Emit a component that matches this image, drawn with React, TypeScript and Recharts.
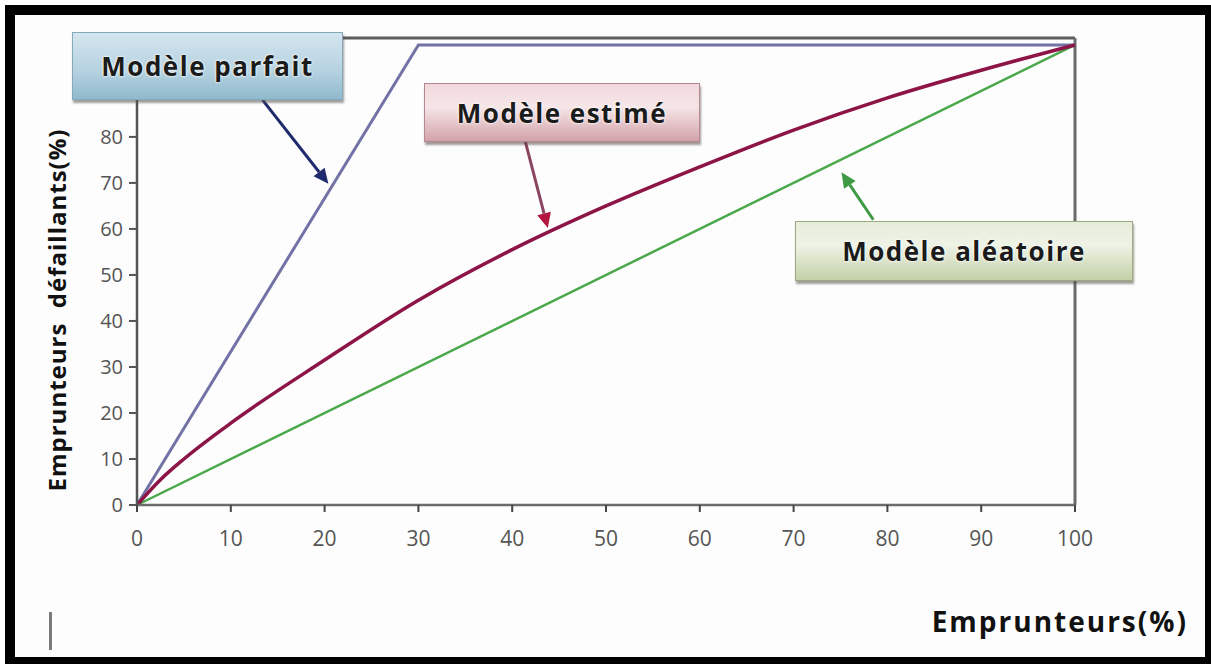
import React from 'react';
import { LineChart, Line, XAxis, YAxis, ReferenceLine } from 'recharts';

const FONT = '"Open Sans", Lato, sans-serif';

// axis ticks (90 and 100 sit under the "Modèle parfait" box in the original)
const xTicks = [0, 10, 20, 30, 40, 50, 60, 70, 80, 90, 100];
const yTicks = [0, 10, 20, 30, 40, 50, 60, 70, 80];

// Modèle parfait
const perfectX = [0, 30, 100];
const perfectY = [0, 100, 100];

// Modèle estimé
const estimatedX = [0, 2.5, 5, 10, 20, 30, 40, 50, 60, 70, 80, 90, 100];
const estimatedY = [0, 5.5, 10, 17.8, 31.5, 44.5, 55.5, 65, 73.5, 81.5, 88.5, 94.5, 100];

// Modèle aléatoire
const randomX = [0, 100];
const randomY = [0, 100];

const toPoints = (xs: number[], ys: number[]) => xs.map((x, i) => ({ x, y: ys[i] }));

const perfectData = toPoints(perfectX, perfectY);
const estimatedData = toPoints(estimatedX, estimatedY);
const randomData = toPoints(randomX, randomY);

const Arrow = (props: any) => {
    const { x1, y1, x2, y2, color, headColor } = props;
    if (x1 == null || x2 == null) return null;
    const ang = Math.atan2(y2 - y1, x2 - x1);
    const len = 15;
    const hw = 7;
    const bx = x2 - len * Math.cos(ang);
    const by = y2 - len * Math.sin(ang);
    const px = -Math.sin(ang) * hw;
    const py = Math.cos(ang) * hw;
    return (
        <g>
            <line x1={x1} y1={y1} x2={bx} y2={by} stroke={color} strokeWidth={3} />
            <polygon
                points={`${x2},${y2} ${bx + px},${by + py} ${bx - px},${by - py}`}
                fill={headColor || color}
            />
        </g>
    );
};

const boxText: React.CSSProperties = {
    position: 'absolute',
    display: 'flex',
    alignItems: 'center',
    justifyContent: 'center',
    fontFamily: FONT,
    fontWeight: 700,
    fontSize: 26,
    letterSpacing: 1.5,
    color: '#1b1b1b',
    textShadow: '0 0 3px #fff, 0 0 2px #fff',
    boxSizing: 'border-box',
    zIndex: 2,
};

export default function App() {
    return (
        <div style={{ position: 'fixed', left: 0, top: 0, width: 1211, height: 664, background: '#fff', overflow: 'hidden' }}>
            {/* black frame */}
            <div
                style={{
                    position: 'absolute',
                    left: 5,
                    top: 5,
                    width: 1206,
                    height: 659,
                    boxSizing: 'border-box',
                    borderLeft: '10px solid #000',
                    borderTop: '10px solid #000',
                    borderRight: '6px solid #000',
                    borderBottom: '7px solid #000',
                    background: '#fdfdfd',
                }}
            />
            <div style={{ position: 'absolute', left: 0, top: 0, zIndex: 1 }}>
                <LineChart width={1211} height={664} margin={{ top: 38, right: 136, bottom: 119, left: 97 }}>
                    <XAxis
                        type="number"
                        dataKey="x"
                        domain={[0, 100]}
                        ticks={xTicks}
                        height={40}
                        tickSize={7}
                        tickMargin={19}
                        axisLine={{ stroke: '#6b6b6b', strokeWidth: 2.5 }}
                        tickLine={{ stroke: '#444', strokeWidth: 2 }}
                        tick={{ fill: '#555', fontSize: 21, fontFamily: FONT }}
                    />
                    <YAxis
                        type="number"
                        dataKey="y"
                        domain={[0, 101.5]}
                        ticks={yTicks}
                        width={40}
                        tickSize={8}
                        tickMargin={6}
                        axisLine={{ stroke: '#555', strokeWidth: 2.5 }}
                        tickLine={{ stroke: '#555', strokeWidth: 2 }}
                        tick={{ fill: '#555', fontSize: 20, fontFamily: FONT }}
                    />
                    <ReferenceLine y={101.5} stroke="#5e5e5e" strokeWidth={3} />
                    <ReferenceLine x={100} stroke="#6b6b6b" strokeWidth={3} />
                    <Line
                        data={randomData}
                        dataKey="y"
                        type="linear"
                        stroke="#4aa84a"
                        strokeWidth={2.5}
                        dot={false}
                        isAnimationActive={false}
                    />
                    <Line
                        data={perfectData}
                        dataKey="y"
                        type="linear"
                        stroke="#7272a6"
                        strokeWidth={3}
                        dot={false}
                        isAnimationActive={false}
                    />
                    <Line
                        data={estimatedData}
                        dataKey="y"
                        type="monotone"
                        stroke="#8c1446"
                        strokeWidth={3.5}
                        dot={false}
                        isAnimationActive={false}
                    />
                    {/* callout arrows */}
                    <ReferenceLine
                        segment={[{ x: 13.4, y: 88 }, { x: 20.4, y: 69.8 }]}
                        ifOverflow="visible"
                        shape={(p: any) => <Arrow {...p} color="#1f2a6e" />}
                    />
                    <ReferenceLine
                        segment={[{ x: 41.4, y: 79 }, { x: 43.8, y: 60.2 }]}
                        ifOverflow="visible"
                        shape={(p: any) => <Arrow {...p} color="#8a4560" headColor="#b3163f" />}
                    />
                    <ReferenceLine
                        segment={[{ x: 78.5, y: 62 }, { x: 75.1, y: 72.3 }]}
                        ifOverflow="visible"
                        shape={(p: any) => <Arrow {...p} color="#3f9a45" />}
                    />
                </LineChart>
            </div>

            {/* label boxes */}
            <div
                style={{
                    ...boxText,
                    left: 72,
                    top: 32,
                    width: 271,
                    height: 68,
                    background: 'linear-gradient(#d4e6ef, #b7d3e1 55%, #8fb9cd)',
                    border: '1.5px solid #86a9ba',
                    boxShadow: '1px 3px 2px rgba(80,80,80,0.55)',
                }}
            >
                Modèle parfait
            </div>
            <div
                style={{
                    ...boxText,
                    left: 424,
                    top: 83,
                    width: 276,
                    height: 59,
                    background: 'linear-gradient(#f0d9dc, #f6e6e8 40%, #d3a2a9)',
                    border: '1.5px solid #b58890',
                    boxShadow: '1px 3px 2px rgba(90,70,70,0.55)',
                }}
            >
                Modèle estimé
            </div>
            <div
                style={{
                    ...boxText,
                    left: 795,
                    top: 221,
                    width: 338,
                    height: 60,
                    background: 'linear-gradient(#e6edd9, #eef3e6 40%, #c3d0a6)',
                    border: '1.5px solid #9caa84',
                    boxShadow: '1px 3px 2px rgba(80,80,70,0.55)',
                }}
            >
                Modèle aléatoire
            </div>

            {/* axis titles */}
            <div
                style={{
                    position: 'absolute',
                    left: 56,
                    top: 310,
                    transform: 'translate(-50%, -50%) rotate(-90deg)',
                    whiteSpace: 'pre',
                    fontFamily: FONT,
                    fontWeight: 700,
                    fontSize: 24,
                    letterSpacing: 1,
                    color: '#111',
                    zIndex: 2,
                }}
            >
                {'Emprunteurs  défaillants(%)'}
            </div>
            <div
                style={{
                    position: 'absolute',
                    right: 23,
                    top: 602,
                    fontFamily: FONT,
                    fontWeight: 700,
                    fontSize: 28,
                    letterSpacing: 2,
                    color: '#111',
                    zIndex: 2,
                }}
            >
                Emprunteurs(%)
            </div>
            {/* stray mark bottom-left */}
            <div style={{ position: 'absolute', left: 49, top: 612, width: 3, height: 38, background: '#7a7a7a', zIndex: 2 }} />
        </div>
    );
}
